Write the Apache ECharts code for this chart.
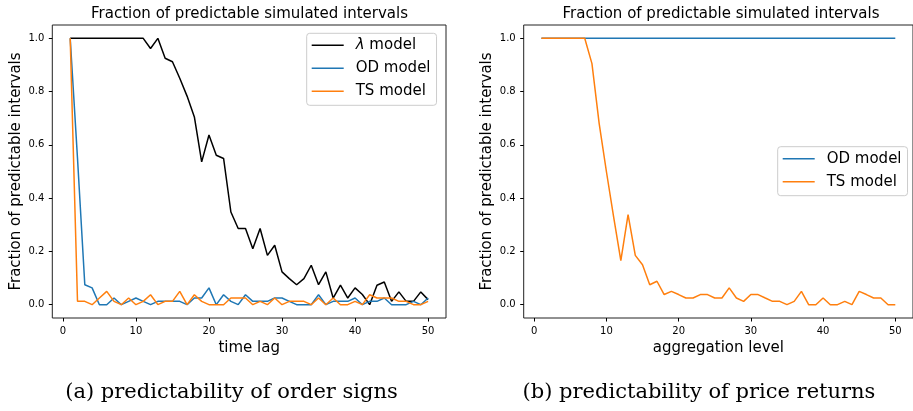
<!DOCTYPE html>
<html>
<head>
<meta charset="utf-8">
<script src="https://cdn.jsdelivr.net/npm/echarts@6/dist/echarts.min.js"></script>
<style>
html,body{margin:0;padding:0;background:#fff;}
#c{width:913px;height:411px;}
</style>
</head>
<body>
<div id="c"></div>
<script>
// ---- data ----
var lags = [1,2,3,4,5,6,7,8,9,10,11,12,13,14,15,16,17,18,19,20,21,22,23,24,25,26,27,28,29,30,31,32,33,34,35,36,37,38,39,40,41,42,43,44,45,46,47,48,49,50];
var aggLevels = [1,2,3,4,5,6,7,8,9,10,11,12,13,14,15,16,17,18,19,20,21,22,23,24,25,26,27,28,29,30,31,32,33,34,35,36,37,38,39,40,41,42,43,44,45,46,47,48,49,50];

// (a) order signs
var lambdaSigns = [1,1,1,1,1,1,1,1,1,1,1,0.962,1,0.925,0.912,0.85,0.783,0.705,0.536,0.637,
  0.561,0.549,0.348,0.286,0.286,0.21,0.286,0.185,0.223,0.123,0.098,0.075,0.098,0.148,0.075,0.123,0.025,0.073,0.025,0.063,
  0.038,0,0.073,0.085,0.0125,0.048,0.0125,0.0125,0.048,0.019];
var odSigns = [1,0.55,0.075,0.063,0,0,0.025,0,0.0125,0.025,0.0125,0,0.0125,0.0125,0.0125,0.0125,0,0.025,0.025,0.063,
  0,0.0375,0.0125,0,0.0375,0.0125,0.0125,0.0125,0.025,0.025,0.0125,0,0,0,0.0375,0,0.0125,0.0125,0.0125,0.025,
  0,0.0125,0.0125,0.025,0,0,0,0.0125,0,0.025];
var tsSigns = [1,0.0125,0.0125,0,0.025,0.05,0.0125,0,0.025,0,0.0125,0.0375,0,0.0125,0.0125,0.05,0,0.0375,0.0125,0,
  0,0,0.025,0.025,0.025,0,0.0125,0,0.025,0,0.0125,0.0125,0.0125,0,0.025,0,0.025,0,0,0.0125,
  0,0.0375,0.025,0.025,0.025,0.0125,0.0125,0,0,0.0125];

// (b) price returns
var odReturns = [1,1,1,1,1,1,1,1,1,1,1,1,1,1,1,1,1,1,1,1,1,1,1,1,1,1,1,1,1,1,1,1,1,1,1,1,1,1,1,1,1,1,1,1,1,1,1,1,1,1];
var tsReturns = [1,1,1,1,1,1,1,0.905,0.68,0.5,0.33,0.165,0.338,0.185,0.15,0.075,0.088,0.038,0.05,0.038,
  0.025,0.025,0.038,0.038,0.025,0.025,0.063,0.025,0.0125,0.038,0.038,0.025,0.0125,0.0125,0,0.0125,0.05,0,0,0.025,
  0,0,0.0125,0,0.05,0.038,0.025,0.025,0,0];

var xTicks = [0,10,20,30,40,50];
var yTicks = [0,0.2,0.4,0.6,0.8,1.0];

var titleText = 'Fraction of predictable simulated intervals';
var yName = 'Fraction of predictable intervals';
var captionA = '(a) predictability of order signs';
var captionB = '(b) predictability of price returns';

// ---- chart ----
function pairs(xs, ys){ return xs.map(function(x,i){ return [x, ys[i]]; }); }

var SANS = 'DejaVu Sans';
var BLUE = '#1f77b4', ORANGE = '#ff7f0e', BLACK = '#000000';

function xAxisCfg(gi, name){
  return {
    type:'value', gridIndex: gi, min:-1.45, max:52.45, position:'bottom',
    name: name, nameLocation:'middle', nameGap: 20,
    nameTextStyle:{fontFamily:SANS, fontSize:15, color:'#000'},
    axisLine:{show:false, onZero:false},
    splitLine:{show:false},
    axisTick:{show:true, length:3.5, customValues: xTicks, lineStyle:{color:'#000', width:1}},
    axisLabel:{show:true, customValues: xTicks, margin:8, fontFamily:SANS, fontSize:10, color:'#000'}
  };
}
function yAxisCfg(gi){
  return {
    type:'value', gridIndex: gi, min:-0.05, max:1.05, position:'left',
    name: yName, nameLocation:'middle', nameGap: 29,
    nameTextStyle:{fontFamily:SANS, fontSize:15, color:'#000'},
    axisLine:{show:false, onZero:false},
    splitLine:{show:false},
    axisTick:{show:true, length:3.5, customValues: yTicks, lineStyle:{color:'#000', width:1}},
    axisLabel:{show:true, customValues: yTicks, margin:8, fontFamily:SANS, fontSize:10, color:'#000',
      formatter:function(v){ return v.toFixed(1); }}
  };
}
function lineSeries(name, xi, data, color){
  return {
    type:'line', name:name, xAxisIndex:xi, yAxisIndex:xi, data:data,
    symbol:'none', showSymbol:false, animation:false,
    lineStyle:{color:color, width:1.5}, itemStyle:{color:color}
  };
}
function legendCfg(names, left, top){
  return {
    data: names, orient:'vertical', left:left, top:top,
    icon:'rect', itemWidth:32, itemHeight:1.6, itemGap:5,
    padding:[3,6,5,5],
    borderColor:'#cccccc', borderWidth:1, borderRadius:3,
    backgroundColor:'rgba(255,255,255,0.8)',
    selectedMode:false,
    formatter:function(n){
      if (n.indexOf('λ') === 0) return '{it|λ} model';
      return n;
    },
    textStyle:{fontFamily:SANS, fontSize:15, color:'#000', lineHeight:18, padding:[0,0,0,7],
      rich:{it:{fontFamily:SANS, fontSize:15, fontStyle:'italic', color:'#000', lineHeight:18}}}
  };
}

var chart = echarts.init(document.getElementById('c'), null, {renderer:'canvas'});
chart.setOption({
  animation:false,
  backgroundColor:'#ffffff',
  grid:[
    {left:52.3, top:25, width:393.7, height:293, show:true, borderColor:'#222', borderWidth:1, backgroundColor:'transparent'},
    {left:523.7, top:25, width:393.7, height:293, show:true, borderColor:'#222', borderWidth:1, backgroundColor:'transparent'}
  ],
  xAxis:[ xAxisCfg(0,'time lag'), xAxisCfg(1,'aggregation level') ],
  yAxis:[ yAxisCfg(0), yAxisCfg(1) ],
  legend:[
    legendCfg(['λ model','OD model','TS model'], 306.7, 33.3),
    legendCfg(['OD model','TS model'], 777.7, 146.7)
  ],
  series:[
    lineSeries('λ model', 0, pairs(lags, lambdaSigns), BLACK),
    lineSeries('OD model', 0, pairs(lags, odSigns), BLUE),
    lineSeries('TS model', 0, pairs(lags, tsSigns), ORANGE),
    lineSeries('OD model', 1, pairs(aggLevels, odReturns), BLUE),
    lineSeries('TS model', 1, pairs(aggLevels, tsReturns), ORANGE)
  ],
  graphic:[
    {type:'text', x:249.5, y:14, style:{text:titleText, fontFamily:SANS, fontSize:15, fill:'#000', align:'center', verticalAlign:'middle'}},
    {type:'text', x:721, y:14, style:{text:titleText, fontFamily:SANS, fontSize:15, fill:'#000', align:'center', verticalAlign:'middle'}},
    {type:'text', x:231.5, y:393, style:{text:captionA, fontFamily:'DejaVu Serif', fontSize:21, fill:'#000', align:'center', verticalAlign:'middle'}},
    {type:'text', x:699, y:393, style:{text:captionB, fontFamily:'DejaVu Serif', fontSize:21, fill:'#000', align:'center', verticalAlign:'middle'}}
  ]
});
</script>
</body>
</html>
